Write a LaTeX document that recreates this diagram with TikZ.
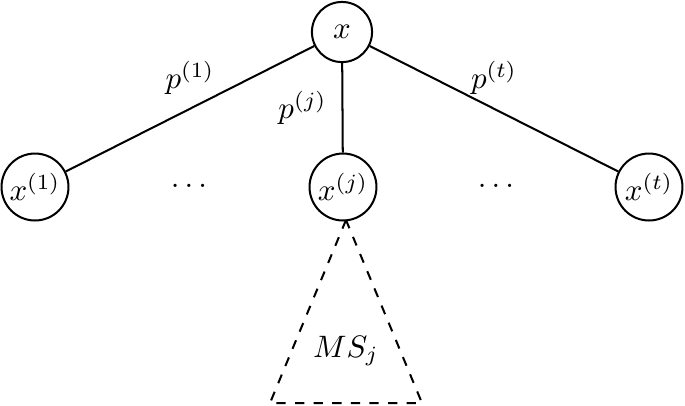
\documentclass[tikz,border=0pt]{standalone}
\begin{document}
\begin{tikzpicture}[x=0.3226pt,y=-0.3226pt, line width=0.65pt,
  vnode/.style={circle,draw,inner sep=1pt},
  topnode/.style={vnode,minimum size=19.4pt},
  leafnode/.style={vnode,minimum size=21.6pt},
  edgelbl/.style={inner sep=3.33pt}]
\useasboundingbox (0,0) rectangle (685,405);
\node[topnode] (r) at (342,32) {$x$};
\node[leafnode] (c1) at (35,187) {$x^{(1)}$};
\node[leafnode] (cj) at (343,187) {$x^{(j)}$};
\node[leafnode] (ct) at (649,187) {$x^{(t)}$};
\node (d1) at (189,186) {.\kern1.67pt.\kern1.67pt.};
\node (d2) at (496,186) {.\kern1.67pt.\kern1.67pt.};
\draw (r) -- (c1) node[edgelbl,midway,above=1pt] (l1) {$p^{(1)}$};
\draw (r) -- (cj) node[edgelbl,midway,left=1.5pt] (lj) {$p^{(j)}$};
\draw (r) -- (ct) node[edgelbl,midway,above=1pt] (lt) {$p^{(t)}$};
\coordinate (apex) at (346,220);
\coordinate (bl) at (270,403);
\coordinate (br) at (422,403);
\draw[dashed] (apex) -- (bl) -- (br) -- cycle;
\node (ms) at (346,351) {$MS_j$};
\end{tikzpicture}
\end{document}
